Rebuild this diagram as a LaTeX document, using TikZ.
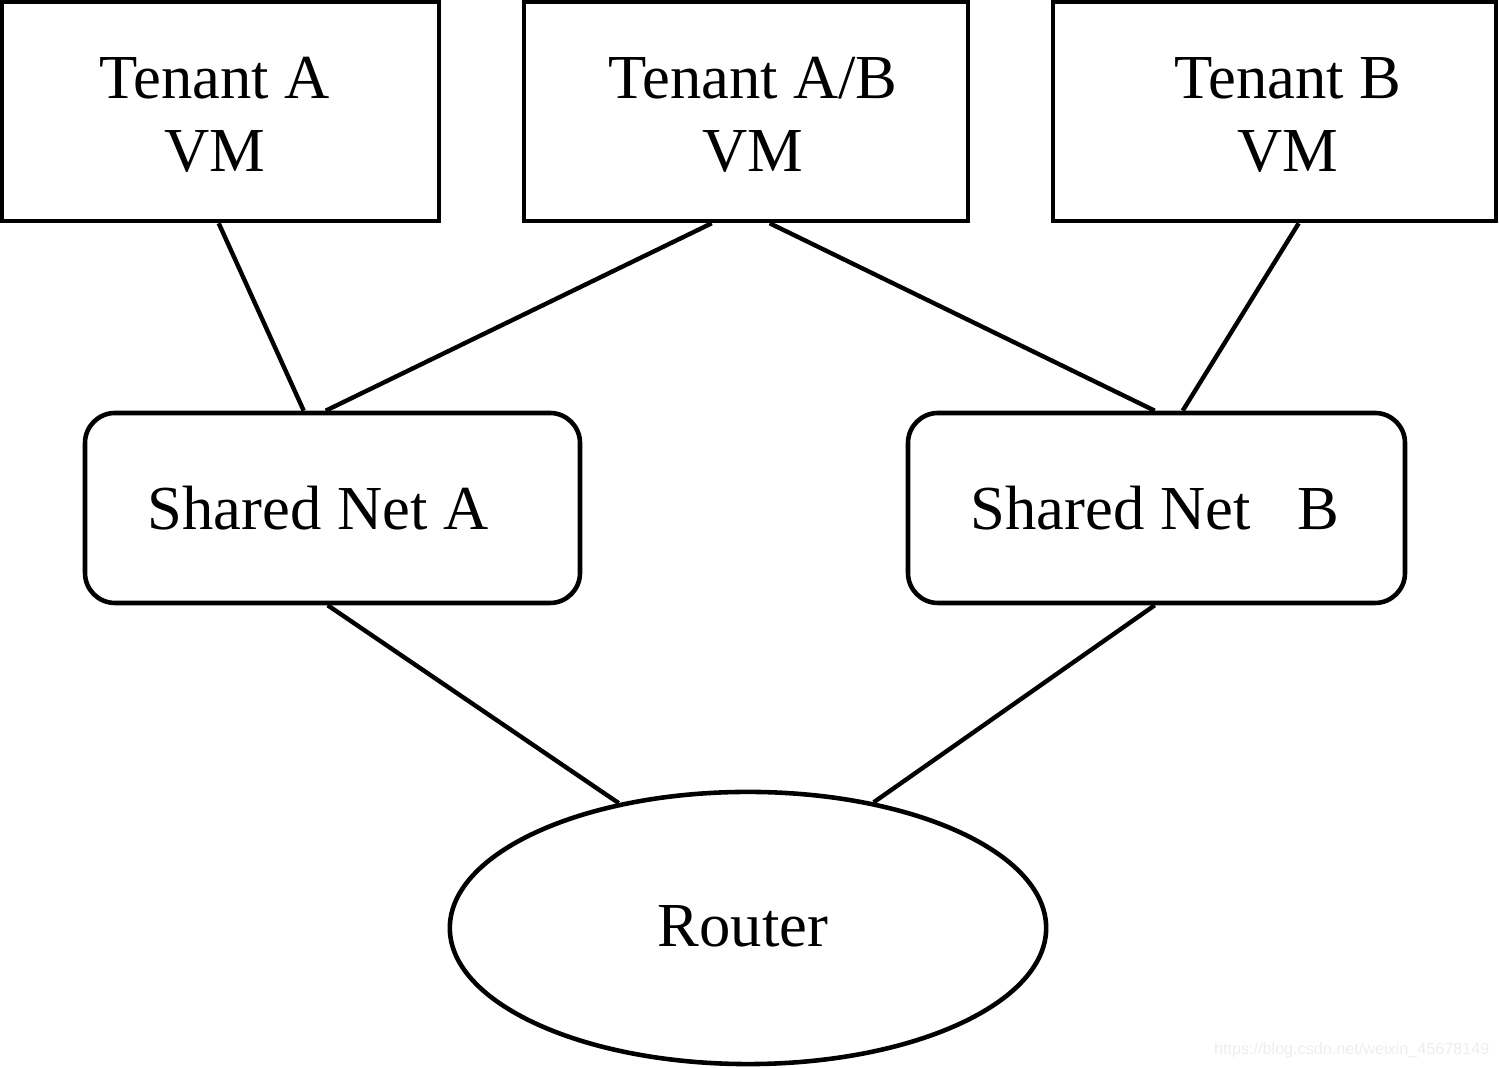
\documentclass[tikz,border=0pt]{standalone}
\usepackage{fontspec}
\setmainfont{Liberation Serif}
\newfontfamily\wmfont{Liberation Sans}
\usetikzlibrary{shapes.geometric,calc,fit}
\begin{document}
\begin{tikzpicture}[x=0.01cm,y=-0.01cm,
  box/.style={draw, rectangle, inner sep=0pt, line width=1.3pt},
  netbox/.style={box, rounded corners=0.3cm},
  lbl/.style={font=\fontsize{17.8}{20.8}\selectfont, align=center, inner sep=0pt},
  conn/.style={line width=1.25pt},
  wm/.style={font=\wmfont\fontsize{4.6}{5}\selectfont, text=black!7, inner sep=0pt}]
\useasboundingbox (0,0) rectangle (1499,1068);
% boxes
\node[box, fit={(2,2) (439,221)}] (ta) {};
\node[box, fit={(524,2) (968,221)}] (tab) {};
\node[box, fit={(1053,2) (1496,221)}] (tb) {};
\node[netbox, fit={(85,413) (580,603)}] (sa) {};
\node[netbox, fit={(908,413) (1405,603)}] (sb) {};
\node[draw, ellipse, line width=1.3pt, minimum width=5.96cm, minimum height=2.72cm, inner sep=0pt] (r) at (748,928) {};
% labels
\node[lbl] (tatext) at (215,115) {Tenant A\\VM};
\node[lbl] (tabtext) at (753,115) {Tenant A/B\\VM};
\node[lbl] (tbtext) at (1288,115) {Tenant B\\VM};
\node[lbl] (satext) at (318,508) {Shared Net A};
\node[lbl] (sbtext) at (1155,508) {Shared Net\ \ \ B};
\node[lbl] (rtext) at (743,926) {Router};
% connectors
\draw[conn] ($(ta.south west)+(219,0)$) -- ($(sa.north west)+(221,0)$);
\draw[conn] ($(tab.south west)+(190,0)$) -- ($(sa.north west)+(243,0)$);
\draw[conn] ($(tab.south west)+(248,0)$) -- ($(sb.north west)+(249,0)$);
\draw[conn] ($(tb.south west)+(248,0)$) -- ($(sb.north west)+(277,0)$);
\draw[conn] ($(sa.south west)+(245,0)$) -- (r.136.8);
\draw[conn] ($(sb.south west)+(249,0)$) -- (r.45);
% watermark
\node[wm, anchor=east] (wmark) at (1490,1050) {https://blog.csdn.net/weixin\_45678149};
\end{tikzpicture}
\end{document}
